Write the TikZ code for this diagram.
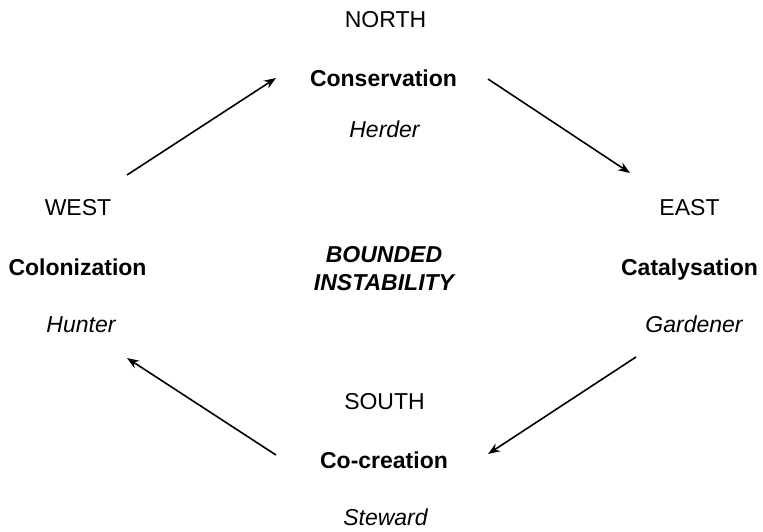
\documentclass[tikz,border=0pt]{standalone}
\usepackage{fontspec}
\setmainfont{Liberation Sans}
\usepackage{tikz}
\usetikzlibrary{arrows.meta}

\begin{document}
\begin{tikzpicture}[x=0.5pt,y=-0.5pt,>={Stealth[length=6pt,width=4.5pt]},
    compass/.style={anchor=base,inner sep=0pt,font=\fontsize{11.5}{14}\selectfont},
    term/.style={compass,font=\fontsize{11.5}{14}\selectfont\bfseries},
    role/.style={compass,font=\fontsize{11.5}{14}\selectfont\itshape}]
              \useasboundingbox (0,0) rectangle (763,531);
              % north
              \node (north) at (385.5,27) [compass] {NORTH};
              \node (cons) at (383.5,86) [term] {Conservation};
              \node (herder) at (384.5,137) [role] {Herder};
              % west
              \node (west) at (78,215) [compass] {WEST};
              \node (colon) at (77.5,275) [term] {Colonization};
              \node (hunter) at (81,332) [role] {Hunter};
              % east
              \node (east) at (689.5,215) [compass] {EAST};
              \node (catal) at (689.5,275) [term] {Catalysation};
              \node (garden) at (694,332) [role] {Gardener};
              % south
              \node (south) at (384.5,409) [compass] {SOUTH};
              \node (cocre) at (384,468) [term] {Co-creation};
              \node (steward) at (385.5,525) [role] {Steward};
              % centre (base = last line)
              \node (bounded) at (384,290) [compass,align=center,
                font=\fontsize{11.5}{14}\selectfont\bfseries\itshape] {BOUNDED\\INSTABILITY};
              % arrow ends
              \coordinate (wn1) at (127,175);
              \coordinate (wn2) at (276,78);
              \coordinate (ne1) at (488,79);
              \coordinate (ne2) at (630,173);
              \coordinate (es1) at (636,357);
              \coordinate (es2) at (488,454);
              \coordinate (sw1) at (276,455);
              \coordinate (sw2) at (127,358);
              \draw[->,line width=0.8pt] (wn1) -- (wn2);
              \draw[->,line width=0.8pt] (ne1) -- (ne2);
              \draw[->,line width=0.8pt] (es1) -- (es2);
              \draw[->,line width=0.8pt] (sw1) -- (sw2);
        \end{tikzpicture}
\end{document}
